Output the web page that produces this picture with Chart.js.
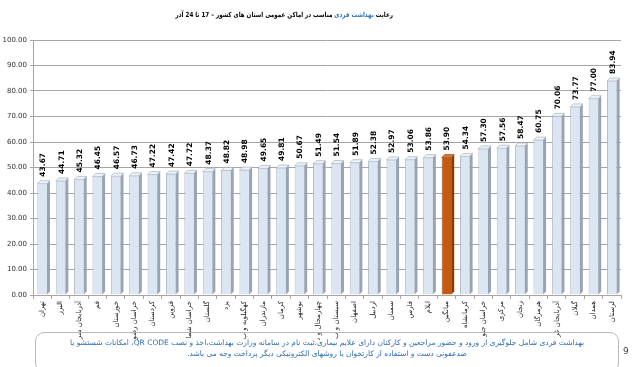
<!DOCTYPE html>
<html>
<head>
<meta charset="utf-8">
<script src="https://cdn.jsdelivr.net/npm/chart.js@4.4.1/dist/chart.umd.min.js"></script>
<style>
  body { margin:0; background:#fff; }
  #wrap { position:relative; width:640px; height:367px; overflow:hidden; }
  #title { position:absolute; top:11px; left:150px; width:270px; text-align:center; direction:rtl;
           font:bold 7px "DejaVu Sans", sans-serif; color:#000; white-space:nowrap;
           transform:scaleX(0.8); transform-origin:center; }
  #title span { color:#2e75b6; }
  #note { position:absolute; left:35px; top:332px; width:584px; height:40px; border:1px solid #b8b8b8;
          border-radius:9px; box-sizing:border-box; direction:rtl; text-align:center;
          font:7.5px "DejaVu Sans", sans-serif; color:#2e6db4; padding-top:4px; line-height:11px; }
  #page { position:absolute; left:623px; top:346px; font:9px "DejaVu Sans", sans-serif; color:#444; }
</style>
</head>
<body>
<div id="wrap">
  <canvas id="chart" width="640" height="367"></canvas>
  <div id="title">رعایت <span>بهداشت فردی</span> مناسب در اماکن عمومی استان های کشور – 17 تا 24 آذر</div>
  <div id="note">بهداشت فردی شامل جلوگیری از ورود و حضور مراجعین و کارکنان دارای علایم بیماری،ثبت نام در سامانه وزارت بهداشت،اخذ و نصب QR CODE، امکانات شستشو یا<br>ضدعفونی دست و استفاده از کارتخوان یا روشهای الکترونیکی دیگر پرداخت وجه می باشد.</div>
  <div id="page">9</div>
</div>
<script>
var provinces = ['تهران','البرز','آذربایجان شر','قم','خوزستان','خراسان رضو','کردستان','قزوین','خراسان شما','گلستان','یزد',
  'کهگیلویه و ب','مازندران','کرمان','بوشهر','چهارمحال و ب','سیستان و ب','اصفهان','اردبیل','سمنان','فارس','ایلام',
  'میانگین','کرمانشاه','خراسان جنو','مرکزی','زنجان','هرمزگان','آذربایجان غر','گیلان','همدان','لرستان'];
var scores = [43.67,44.71,45.32,46.45,46.57,46.73,47.22,47.42,47.72,48.37,48.82,48.98,49.65,49.81,50.67,51.49,
  51.54,51.89,52.38,52.97,53.06,53.86,53.90,54.34,57.30,57.56,58.47,60.75,70.06,73.77,77.00,83.94];
var avgLabel = 'میانگین';

var fills = provinces.map(function(p){ return p === avgLabel ? '#c55a11' : '#dce6f2'; });
var sides = provinces.map(function(p){ return p === avgLabel ? '#843c0c' : '#98a4b2'; });

// fake 3d side + top face, and rotated value labels
var bar3d = {
  id: 'bar3d',
  afterDatasetsDraw: function(chart) {
    var c = chart.ctx;
    var meta = chart.getDatasetMeta(0);
    var d = 3;
    meta.data.forEach(function(bar, i) {
      var r = bar.x + bar.width / 2, l = bar.x - bar.width / 2;
      c.save();
      c.fillStyle = sides[i];
      c.beginPath();
      c.moveTo(r, bar.y); c.lineTo(r + d, bar.y - d); c.lineTo(r + d, bar.base - d); c.lineTo(r, bar.base);
      c.closePath(); c.fill();
      c.fillStyle = provinces[i] === avgLabel ? '#d9782f' : '#eef3f9';
      c.strokeStyle = sides[i];
      c.lineWidth = 0.6;
      c.beginPath();
      c.moveTo(l, bar.y); c.lineTo(l + d, bar.y - d); c.lineTo(r + d, bar.y - d); c.lineTo(r, bar.y);
      c.closePath(); c.fill(); c.stroke();
      c.translate(bar.x + 1, bar.y - 7);
      c.rotate(-Math.PI / 2);
      c.fillStyle = '#000';
      c.font = 'bold 7.5px "DejaVu Sans", sans-serif';
      c.textAlign = 'left';
      c.textBaseline = 'middle';
      c.fillText(scores[i].toFixed(2), 0, 0);
      c.restore();
    });
  }
};

new Chart(document.getElementById('chart'), {
  type: 'bar',
  data: {
    labels: provinces,
    datasets: [{
      data: scores,
      backgroundColor: fills,
      borderColor: sides,
      borderWidth: { top: 0, left: 0.8, right: 0, bottom: 0 },
      borderSkipped: 'bottom',
      barPercentage: 0.52,
      categoryPercentage: 1
    }]
  },
  options: {
    responsive: false,
    animation: false,
    layout: { padding: { top: 40, bottom: 27, left: 2, right: 19 } },
    plugins: { legend: { display: false }, tooltip: { enabled: false } },
    scales: {
      y: {
        min: 0, max: 100,
        afterFit: function(s) { s.width = 31; },
        ticks: { stepSize: 10, color: '#333', font: { size: 7, family: 'DejaVu Sans' },
                 callback: function(v) { return v.toFixed(2); } },
        grid: { color: '#a6a6a6', tickLength: 3 },
        border: { color: '#a6a6a6' }
      },
      x: {
        afterFit: function(s) { s.height = 45; },
        ticks: { minRotation: 90, maxRotation: 90, autoSkip: false, color: '#222',
                 font: { size: 7, family: 'DejaVu Sans' }, padding: 2 },
        grid: { drawOnChartArea: false, color: '#a6a6a6', tickLength: 4, offset: true },
        border: { color: '#a6a6a6' }
      }
    }
  },
  plugins: [bar3d]
});
</script>
</body>
</html>
